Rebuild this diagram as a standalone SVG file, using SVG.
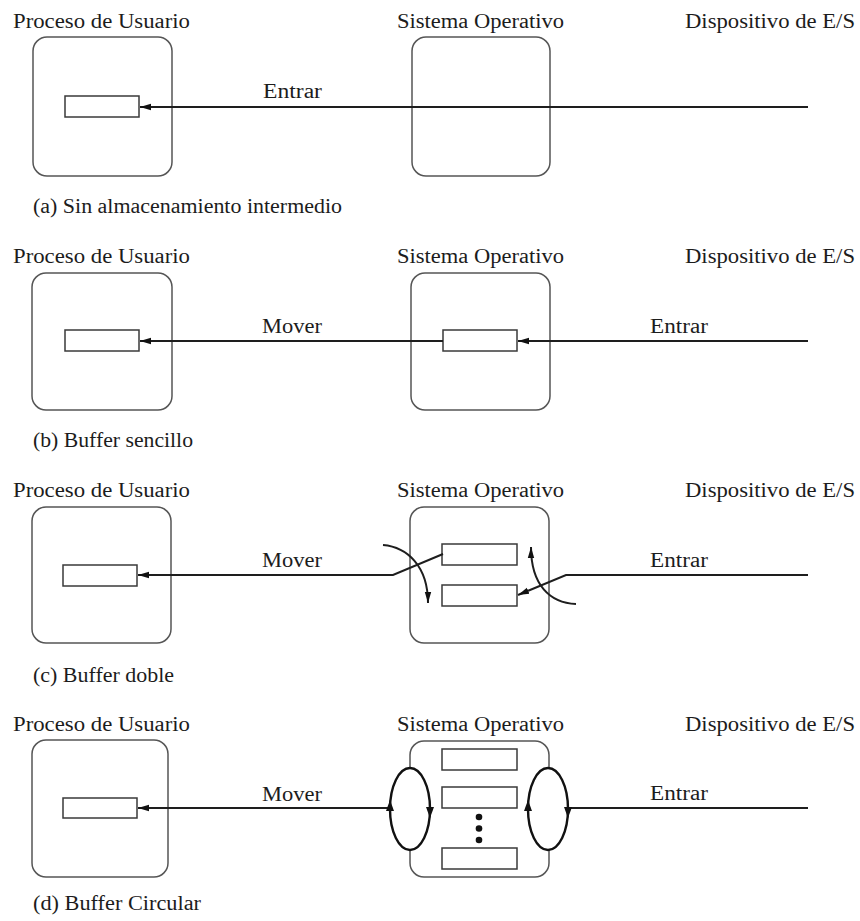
<svg xmlns="http://www.w3.org/2000/svg" width="860" height="921" viewBox="0 0 860 921">
  <defs>
    <style>
      text { font-family: "Liberation Serif", "Times New Roman", serif; font-size: 20px; fill: #1c1c1c; }
      .box { fill: none; stroke: #555; stroke-width: 1.5; }
      .buf { fill: #fff; stroke: #3a3a3a; stroke-width: 1.5; }
      .flow { fill: none; stroke: #1e1e1e; stroke-width: 2; }
      .ring { fill: #fff; stroke: #111; stroke-width: 2.4; }
      .tip { fill: #111; }
    </style>
    <marker id="arrow" markerUnits="userSpaceOnUse" markerWidth="12" markerHeight="8" refX="11" refY="4" orient="auto">
      <path d="M0,0.8 L11,4 L0,7.2 z" fill="#111"/>
    </marker>
  </defs>

  <rect width="860" height="921" fill="#fff"/>

  <!-- (a) no intermediate buffering -->
  <g id="panel-a">
    <g id="a-headers">
      <text x="13" y="28" textLength="177" lengthAdjust="spacingAndGlyphs">Proceso de Usuario</text>
      <text x="397" y="28" textLength="167" lengthAdjust="spacingAndGlyphs">Sistema Operativo</text>
      <text x="685" y="28" textLength="170" lengthAdjust="spacingAndGlyphs">Dispositivo de E/S</text>
    </g>
    <g id="a-user">
      <rect class="box" x="33" y="37" width="139" height="139" rx="14"/>
      <rect class="buf" x="65" y="96" width="74" height="21"/>
    </g>
    <g id="a-os">
      <rect class="box" x="412" y="37" width="138" height="139" rx="14"/>
    </g>
    <g id="a-connectors">
      <path class="flow" d="M808,107 L140,107" marker-end="url(#arrow)"/>
      <text x="263" y="98" textLength="59" lengthAdjust="spacingAndGlyphs">Entrar</text>
    </g>
    <text x="33" y="213" textLength="309" lengthAdjust="spacingAndGlyphs">(a) Sin almacenamiento intermedio</text>
  </g>

  <!-- (b) single buffer -->
  <g id="panel-b">
    <g id="b-headers">
      <text x="13" y="263" textLength="177" lengthAdjust="spacingAndGlyphs">Proceso de Usuario</text>
      <text x="397" y="263" textLength="167" lengthAdjust="spacingAndGlyphs">Sistema Operativo</text>
      <text x="685" y="263" textLength="170" lengthAdjust="spacingAndGlyphs">Dispositivo de E/S</text>
    </g>
    <g id="b-user">
      <rect class="box" x="32" y="273" width="140" height="137" rx="14"/>
      <rect class="buf" x="65" y="330" width="74" height="21"/>
    </g>
    <g id="b-os">
      <rect class="box" x="411" y="273" width="139" height="137" rx="14"/>
      <rect class="buf" x="443" y="330" width="74" height="21"/>
    </g>
    <g id="b-connectors">
      <path class="flow" d="M808,341 L518,341" marker-end="url(#arrow)"/>
      <path class="flow" d="M443,341 L140,341" marker-end="url(#arrow)"/>
      <text x="262" y="333" textLength="60" lengthAdjust="spacingAndGlyphs">Mover</text>
      <text x="650" y="333" textLength="58" lengthAdjust="spacingAndGlyphs">Entrar</text>
    </g>
    <text x="33" y="447" textLength="160" lengthAdjust="spacingAndGlyphs">(b) Buffer sencillo</text>
  </g>

  <!-- (c) double buffer -->
  <g id="panel-c">
    <g id="c-headers">
      <text x="13" y="497" textLength="177" lengthAdjust="spacingAndGlyphs">Proceso de Usuario</text>
      <text x="397" y="497" textLength="167" lengthAdjust="spacingAndGlyphs">Sistema Operativo</text>
      <text x="685" y="497" textLength="170" lengthAdjust="spacingAndGlyphs">Dispositivo de E/S</text>
    </g>
    <g id="c-user">
      <rect class="box" x="32" y="507" width="139" height="136" rx="14"/>
      <rect class="buf" x="63" y="565" width="74" height="21"/>
    </g>
    <g id="c-os">
      <rect class="box" x="410" y="507" width="139" height="136" rx="14"/>
      <rect class="buf" x="442" y="544" width="75" height="21"/>
      <rect class="buf" x="442" y="585" width="75" height="21"/>
    </g>
    <g id="c-connectors">
      <path class="flow" d="M443,554 L393,575 L138,575" marker-end="url(#arrow)"/>
      <path class="flow" d="M808,575 L566,575 L518,595" marker-end="url(#arrow)"/>
      <path class="flow" d="M383,545 C407,547 428,566 428,603" marker-end="url(#arrow)"/>
      <path class="flow" d="M576,604 C550,603 531,585 531,547" marker-end="url(#arrow)"/>
      <text x="262" y="567" textLength="60" lengthAdjust="spacingAndGlyphs">Mover</text>
      <text x="650" y="567" textLength="58" lengthAdjust="spacingAndGlyphs">Entrar</text>
    </g>
    <text x="33" y="682" textLength="141" lengthAdjust="spacingAndGlyphs">(c) Buffer doble</text>
  </g>

  <!-- (d) circular buffer -->
  <g id="panel-d">
    <g id="d-headers">
      <text x="13" y="731" textLength="177" lengthAdjust="spacingAndGlyphs">Proceso de Usuario</text>
      <text x="397" y="731" textLength="167" lengthAdjust="spacingAndGlyphs">Sistema Operativo</text>
      <text x="685" y="731" textLength="170" lengthAdjust="spacingAndGlyphs">Dispositivo de E/S</text>
    </g>
    <g id="d-user">
      <rect class="box" x="32" y="740" width="136" height="137" rx="14"/>
      <rect class="buf" x="63" y="798" width="74" height="20"/>
    </g>
    <g id="d-os">
      <rect class="box" x="410" y="741" width="139" height="136" rx="14"/>
      <rect class="buf" x="442" y="749" width="75" height="21"/>
      <rect class="buf" x="442" y="787" width="75" height="21"/>
      <circle cx="479" cy="817" r="3.3" fill="#111"/>
      <circle cx="479" cy="828.5" r="3.3" fill="#111"/>
      <circle cx="479" cy="840" r="3.3" fill="#111"/>
      <rect class="buf" x="442" y="848" width="75" height="21"/>
    </g>
    <g id="d-connectors">
      <path class="flow" d="M808,808 L568,808"/>
      <path class="flow" d="M390,808 L138,808" marker-end="url(#arrow)"/>
      <!-- rings drawn over the box sides, turning clockwise -->
      <ellipse class="ring" cx="410" cy="809" rx="20" ry="41"/>
      <polygon class="tip" points="390,800 386,811 394,811"/>
      <polygon class="tip" points="430,818 426,807 434,807"/>
      <ellipse class="ring" cx="548" cy="809" rx="20" ry="41"/>
      <polygon class="tip" points="528,800 524,811 532,811"/>
      <polygon class="tip" points="568,818 564,807 572,807"/>
      <text x="262" y="801" textLength="60" lengthAdjust="spacingAndGlyphs">Mover</text>
      <text x="650" y="800" textLength="58" lengthAdjust="spacingAndGlyphs">Entrar</text>
    </g>
    <text x="33" y="910" textLength="168" lengthAdjust="spacingAndGlyphs">(d) Buffer Circular</text>
  </g>
</svg>
